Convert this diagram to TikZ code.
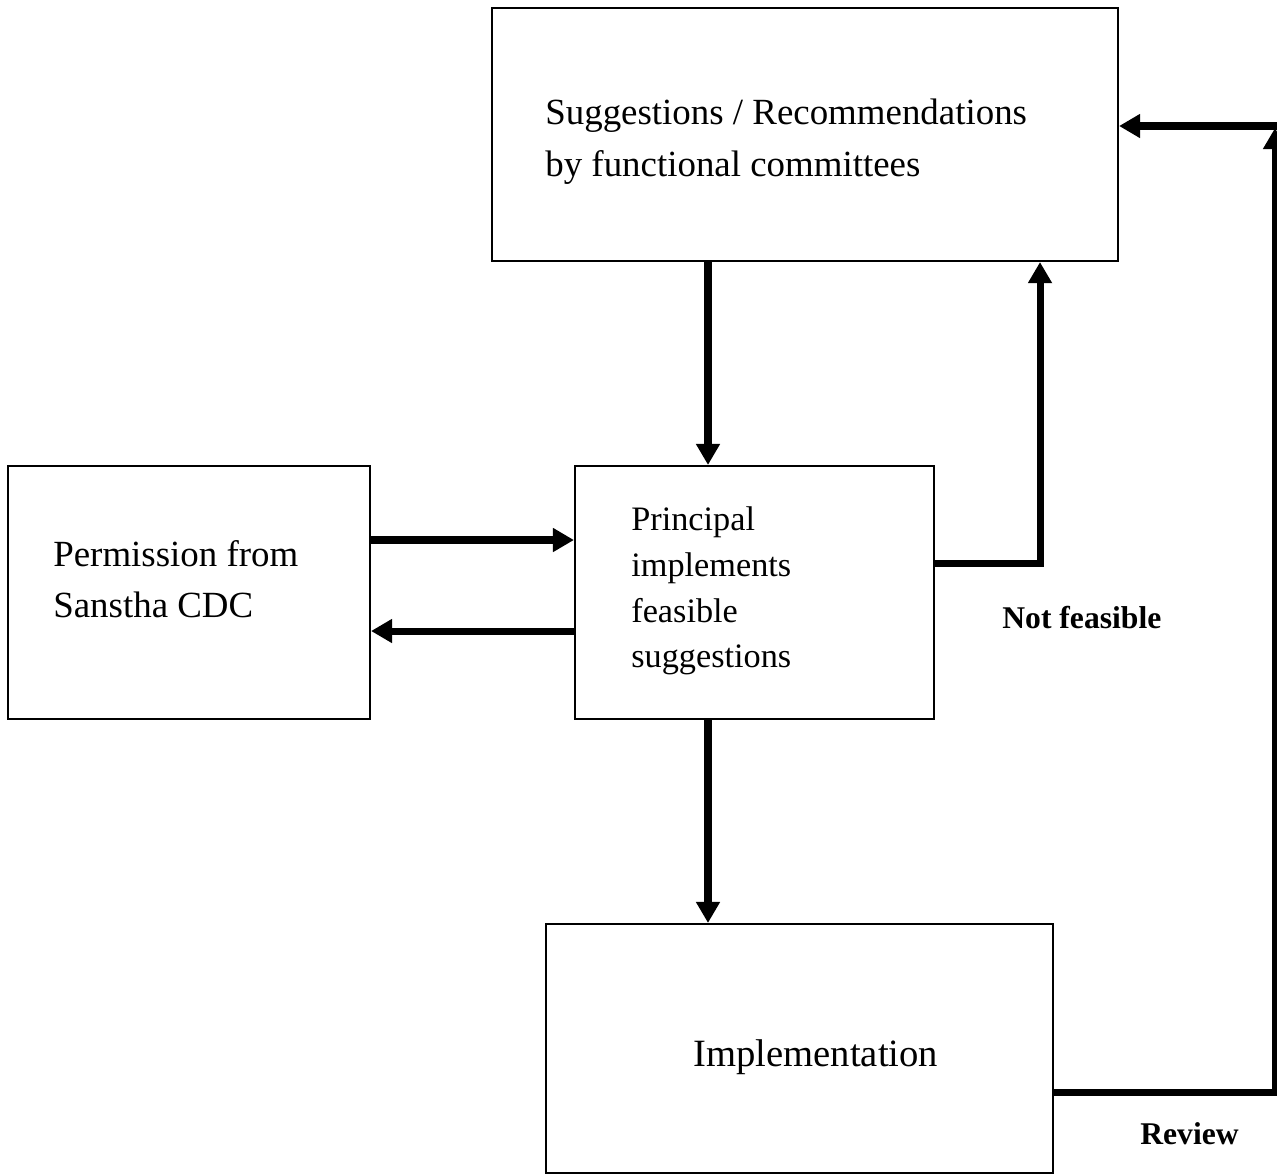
\documentclass[tikz,border=0pt]{standalone}
\usepackage{fontspec}
\setmainfont{Liberation Serif}
\usetikzlibrary{arrows.meta,fit}
\begin{document}
\begin{tikzpicture}[x=0.02cm,y=-0.02cm,
	box/.style={draw,line width=1.2pt,inner sep=0pt},
	arr/.style={line width=4pt,-{Triangle[length=12pt,width=13pt]}},
	txt/.style={anchor=west,inner sep=0pt,align=left}]
	\useasboundingbox (0,0) rectangle (1277,1174);

	%boxes
	\node[box,fit={(492,8) (1118,261)}] (sugg) {}; %committees
	\node[box,fit={(8,466) (370,719)}] (perm) {}; %Sanstha CDC
	\node[box,fit={(575,466) (934,719)}] (prin) {}; %principal
	\node[box,fit={(546,924) (1053,1173)}] (impl) {}; %implementation

	%box texts
	\node[txt,font=\fontsize{21}{29.5}\selectfont] (suggtext) at (545,142)
	  {Suggestions / Recommendations\\by functional committees};
	\node[txt,font=\fontsize{21}{29}\selectfont] (permtext) at (53,579)
	  {Permission from\\Sanstha CDC};
	\node[txt,font=\fontsize{19.5}{26}\selectfont] (printext) at (631,591)
	  {Principal\\implements\\feasible\\suggestions};
	\node[txt,font=\fontsize{22}{26}\selectfont] (impltext) at (693,1057)
	  {Implementation};

	%labels
	\node[txt,font=\bfseries\fontsize{18}{22}\selectfont] (notfeas) at (1002,618) {Not feasible};
	\node[txt,font=\bfseries\fontsize{18}{22}\selectfont] (review) at (1140,1134) {Review};

	%helper coordinates
	\coordinate (down) at (708,0);
	\coordinate (out) at (0,540);
	\coordinate (back) at (0,631);
	\coordinate (nf) at (1040,563);
	\coordinate (rv) at (1275,1092);
	\coordinate (rvtop) at (1275,128);
	\coordinate (rvedge) at (1277,126);

	%arrows
	\draw[arr] (sugg.south -| down) -- (prin.north -| down); %to principal
	\draw[arr] (perm.east |- out) -- (prin.west |- out); %permission given
	\draw[arr] (prin.west |- back) -- (perm.east |- back); %ask permission
	\draw[arr] (prin.south -| down) -- (impl.north -| down); %implement
	\draw[arr,line join=miter] (prin.east |- nf) -- (nf) -- (nf |- sugg.south); %not feasible
	\draw[arr] (impl.east |- rv) -- (rv) -- (rvtop); %review
	\draw[arr] (rvedge) -- (sugg.east |- rvedge); %back to committees

\end{tikzpicture}
\end{document}
